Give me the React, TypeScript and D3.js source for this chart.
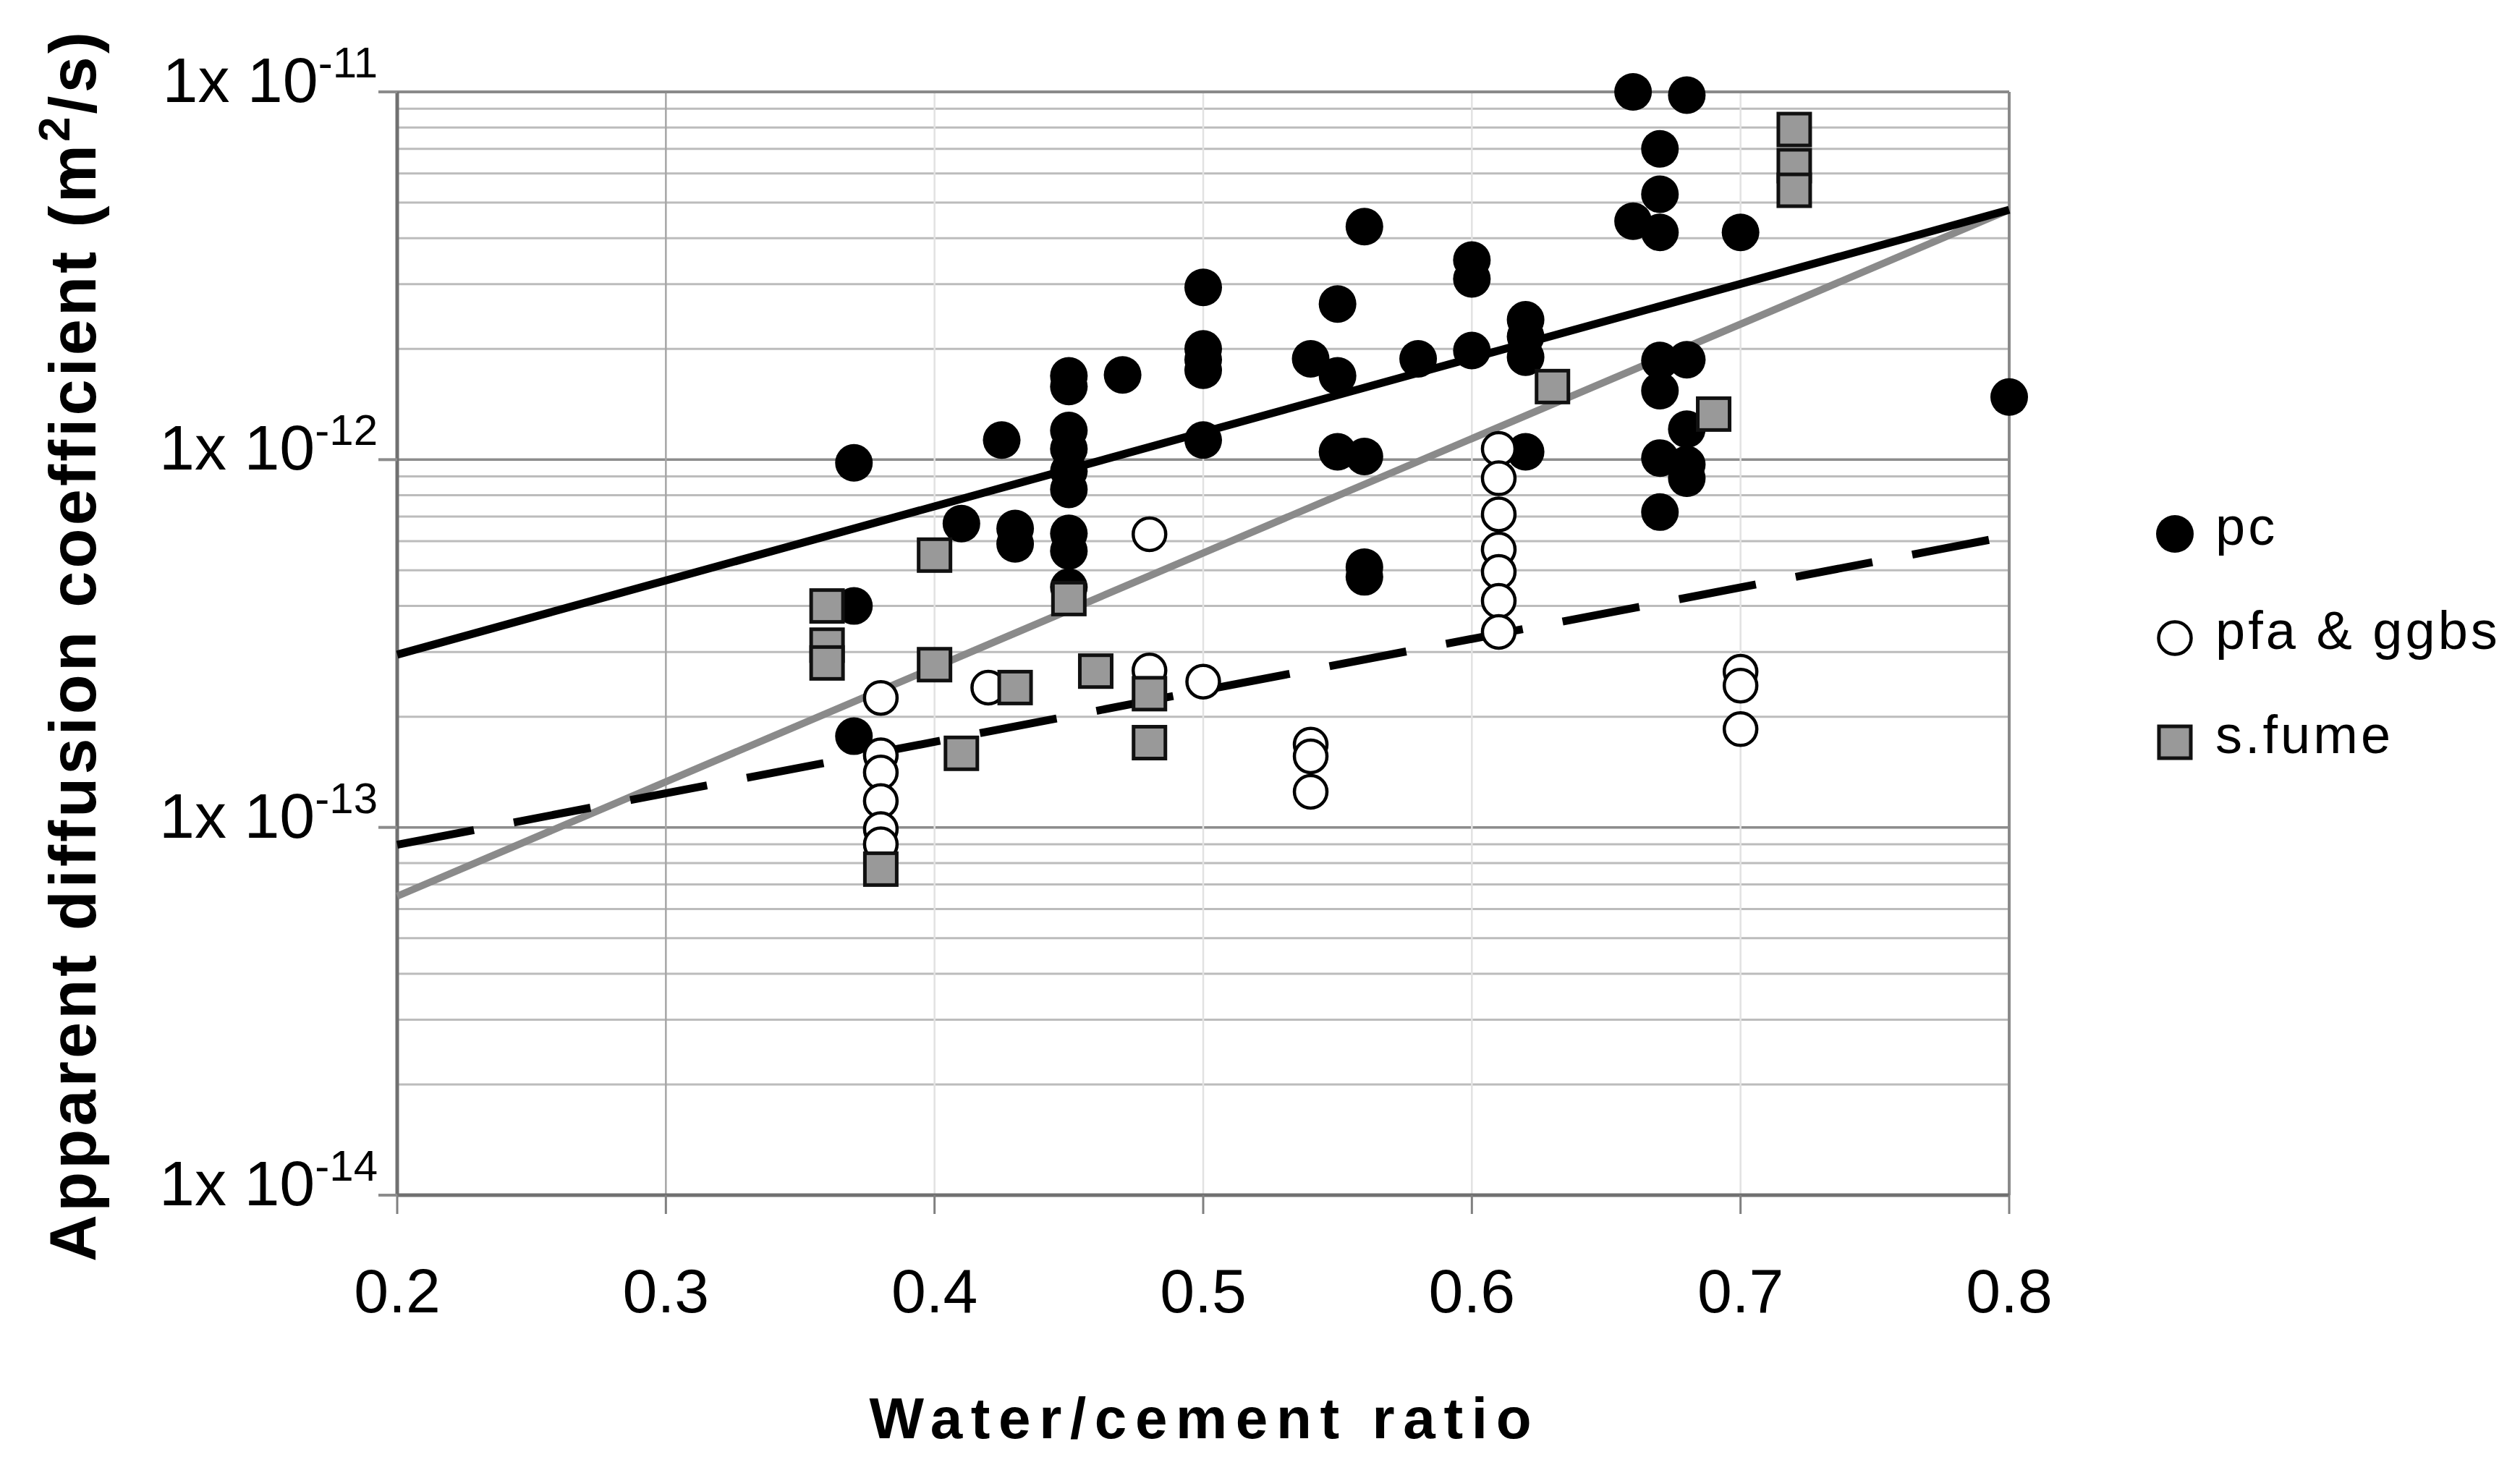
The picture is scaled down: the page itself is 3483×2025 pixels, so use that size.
import * as d3 from 'd3';

// w/c ratio, apparent diffusion coefficient (m2/s)
const pcPoints: [number, number][] = [
  [0.37, 9.8e-13], [0.37, 4.0e-13], [0.37, 1.77e-13],
  [0.41, 6.7e-13], [0.425, 1.13e-12], [0.43, 6.5e-13], [0.43, 5.9e-13],
  [0.45, 1.69e-12], [0.45, 1.58e-12], [0.45, 1.2e-12], [0.45, 1.07e-12], [0.45, 9.3e-13],
  [0.45, 8.3e-13], [0.45, 6.3e-13], [0.45, 5.65e-13], [0.45, 4.5e-13],
  [0.47, 1.7e-12],
  [0.5, 2.94e-12], [0.5, 2.0e-12], [0.5, 1.87e-12], [0.5, 1.75e-12], [0.5, 1.13e-12],
  [0.54, 1.88e-12], [0.55, 2.65e-12], [0.55, 1.69e-12], [0.55, 1.05e-12],
  [0.56, 4.3e-12], [0.56, 1.02e-12], [0.56, 5.1e-13], [0.56, 4.8e-13],
  [0.58, 1.88e-12], [0.6, 3.49e-12], [0.6, 3.1e-12], [0.6, 1.98e-12],
  [0.62, 2.4e-12], [0.62, 2.16e-12], [0.62, 1.9e-12], [0.62, 1.05e-12],
  [0.66, 1.0e-11], [0.66, 4.45e-12],
  [0.67, 7.0e-12], [0.67, 5.27e-12], [0.67, 4.15e-12], [0.67, 1.86e-12], [0.67, 1.54e-12],
  [0.67, 1.01e-12], [0.67, 7.2e-13],
  [0.68, 9.8e-12], [0.68, 1.87e-12], [0.68, 1.21e-12], [0.68, 9.7e-13], [0.68, 8.9e-13],
  [0.7, 4.15e-12], [0.8, 1.48e-12],
];

const pfaPoints: [number, number][] = [
  [0.38, 2.25e-13], [0.38, 1.57e-13], [0.38, 1.41e-13], [0.38, 1.18e-13], [0.38, 9.9e-14], [0.38, 9.0e-14],
  [0.42, 2.4e-13], [0.48, 6.27e-13], [0.48, 2.67e-13], [0.5, 2.49e-13],
  [0.54, 1.68e-13], [0.54, 1.56e-13], [0.54, 1.25e-13],
  [0.61, 1.07e-12], [0.61, 8.9e-13], [0.61, 7.1e-13], [0.61, 5.7e-13], [0.61, 4.95e-13],
  [0.61, 4.13e-13], [0.61, 3.4e-13],
  [0.7, 2.65e-13], [0.7, 2.43e-13], [0.7, 1.85e-13],
];

const sfumePoints: [number, number][] = [
  [0.36, 4.0e-13], [0.36, 3.13e-13], [0.36, 2.8e-13], [0.38, 7.7e-14],
  [0.4, 5.5e-13], [0.4, 2.77e-13], [0.41, 1.59e-13], [0.43, 2.4e-13], [0.45, 4.19e-13],
  [0.46, 2.66e-13], [0.48, 2.31e-13], [0.48, 1.7e-13],
  [0.63, 1.58e-12], [0.69, 1.33e-12], [0.72, 7.9e-12], [0.72, 6.3e-12], [0.72, 5.4e-12],
];

// trend lines, end points at w/c 0.2 and 0.8
const pcFit: [number, number][] = [[0.2, 2.95e-13], [0.8, 4.78e-12]];
const sfumeFit: [number, number][] = [[0.2, 6.5e-14], [0.8, 4.78e-12]];
const pfaFit: [number, number][] = [[0.2, 8.97e-14], [0.8, 6.2e-13]];

const xTicks = [0.2, 0.3, 0.4, 0.5, 0.6, 0.7, 0.8];
const yDecades = [-11, -12, -13, -14];
const legendItems = ['pc', 'pfa & ggbs', 's.fume'];

const W = 3483;
const H = 2025;
const plot = { left: 549, right: 2777, top: 127, bottom: 1652 };
const font = 'Liberation Sans, Arial, sans-serif';

export default function App() {
  const x = d3.scaleLinear().domain([0.2, 0.8]).range([plot.left, plot.right]);
  const y = d3.scaleLog().domain([1e-14, 1e-11]).range([plot.bottom, plot.top]);
  const line = d3.line<[number, number]>().x(d => x(d[0])).y(d => y(d[1]));

  const yGrid = y.ticks();
  const isDecade = (v: number) => Math.abs(Math.log10(v) - Math.round(Math.log10(v))) < 1e-6;

  const legendY = d3.scaleLinear().domain([0, 1]).range([738, 882]);

  const marker = (cx: number, cy: number, kind: number, key: string) =>
    kind === 0 ? (
      <circle key={key} cx={cx} cy={cy} r={26} fill="#000" />
    ) : kind === 1 ? (
      <circle key={key} cx={cx} cy={cy} r={22.5} fill="#fff" stroke="#000" strokeWidth={4.5} />
    ) : (
      <rect key={key} x={cx - 22} y={cy - 22} width={44} height={44} fill="#999" stroke="#111" strokeWidth={5} />
    );

  return (
    <svg width={W} height={H} style={{ position: 'absolute', left: 0, top: 0, background: '#fff' }} fontFamily={font}>
      <rect width={W} height={H} fill="#fff" />

      {/* horizontal grid */}
      {yGrid.map(v => (
        <line
          key={`h${v}`}
          x1={plot.left}
          x2={plot.right}
          y1={y(v)}
          y2={y(v)}
          stroke={isDecade(v) ? '#8c8c8c' : '#bcbcbc'}
          strokeWidth={isDecade(v) ? 3.5 : 3}
        />
      ))}

      {/* vertical grid */}
      {xTicks.slice(1, -1).map(t => (
        <line
          key={`v${t}`}
          x1={x(t)}
          x2={x(t)}
          y1={plot.top}
          y2={plot.bottom}
          stroke={t === 0.3 ? '#a6a6a6' : '#e2e2e2'}
          strokeWidth={2.5}
        />
      ))}

      {/* frame */}
      <line x1={plot.left} x2={plot.right} y1={plot.top} y2={plot.top} stroke="#8a8a8a" strokeWidth={4} />
      <line x1={plot.right} x2={plot.right} y1={plot.top} y2={plot.bottom} stroke="#8a8a8a" strokeWidth={4} />
      <line x1={plot.left} x2={plot.right} y1={plot.bottom} y2={plot.bottom} stroke="#707070" strokeWidth={5} />
      <line x1={plot.left} x2={plot.left} y1={plot.top} y2={plot.bottom} stroke="#707070" strokeWidth={5} />

      {/* ticks */}
      {xTicks.map(t => (
        <line key={`xt${t}`} x1={x(t)} x2={x(t)} y1={plot.bottom} y2={plot.bottom + 26} stroke="#808080" strokeWidth={3} />
      ))}
      {yDecades.map(e => (
        <line key={`yt${e}`} x1={plot.left - 26} x2={plot.left} y1={y(Math.pow(10, e))} y2={y(Math.pow(10, e))} stroke="#8c8c8c" strokeWidth={4} />
      ))}

      {/* trend lines */}
      <path d={line(sfumeFit) ?? ''} fill="none" stroke="#8a8a8a" strokeWidth={10} />
      <path d={line(pcFit) ?? ''} fill="none" stroke="#000" strokeWidth={11} />
      <path d={line(pfaFit) ?? ''} fill="none" stroke="#000" strokeWidth={11} strokeDasharray="108 56" />

      {/* points */}
      {pcPoints.map((d, i) => marker(x(d[0]), y(d[1]), 0, `pc${i}`))}
      {pfaPoints.map((d, i) => marker(x(d[0]), y(d[1]), 1, `pf${i}`))}
      {sfumePoints.map((d, i) => marker(x(d[0]), y(d[1]), 2, `sf${i}`))}

      {/* x tick labels */}
      {xTicks.map(t => (
        <text key={`xl${t}`} x={x(t)} y={1814} fontSize={86} textAnchor="middle" fill="#000">
          {t.toFixed(1)}
        </text>
      ))}

      {/* y tick labels */}
      {yDecades.map(e => (
        <text key={`yl${e}`} x={522} y={y(Math.pow(10, e)) + 14} fontSize={88} textAnchor="end" fill="#000">
          <tspan>1x 10</tspan>
          <tspan fontSize={60} dy={-34}>{String(e)}</tspan>
        </text>
      ))}

      {/* axis titles */}
      <text x={1659} y={1988} fontSize={80} fontWeight="bold" textAnchor="middle" textLength={915} lengthAdjust="spacing">
        Water/cement ratio
      </text>
      <text
        transform={`translate(132, 894) rotate(-90)`}
        fontSize={90}
        fontWeight="bold"
        textAnchor="middle"
        textLength={1700}
        lengthAdjust="spacing"
      >
        Apparent diffusion coefficient (m<tspan fontSize={62} dy={-36}>2</tspan>
        <tspan dy={36}>/s)</tspan>
      </text>

      {/* legend */}
      {legendItems.map((label, i) => (
        <g key={label}>
          {marker(3006, legendY(i), i, `lg${i}`)}
          <text x={3062} y={legendY(i) + 15} fontSize={74} letterSpacing={4} fill="#000">
            {label}
          </text>
        </g>
      ))}
    </svg>
  );
}
